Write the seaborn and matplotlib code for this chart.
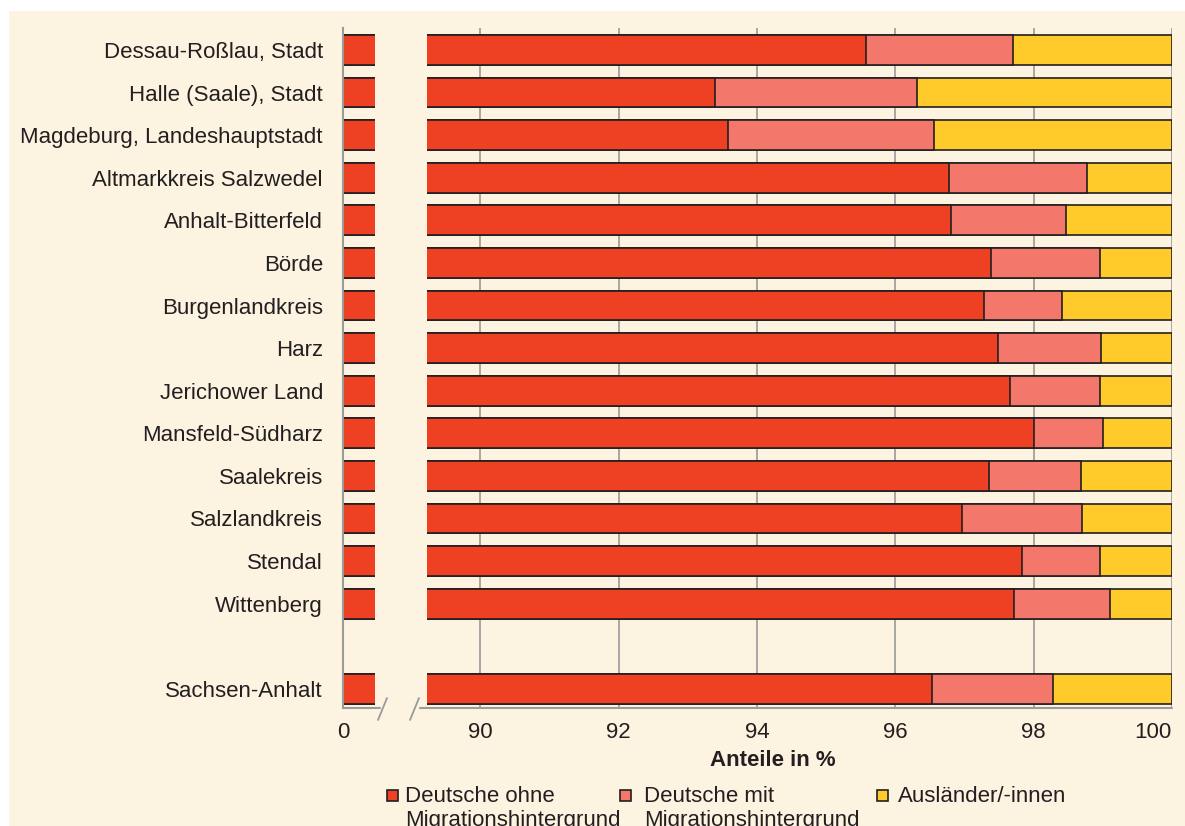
import pandas as pd
import matplotlib.pyplot as plt
import seaborn as sns
from matplotlib.patches import Rectangle
from matplotlib.lines import Line2D

sns.set_style("white")
plt.rcParams["font.family"] = ["Liberation Sans", "DejaVu Sans"]

kreise = ["Dessau-Roßlau, Stadt", "Halle (Saale), Stadt", "Magdeburg, Landeshauptstadt",
          "Altmarkkreis Salzwedel", "Anhalt-Bitterfeld", "Börde", "Burgenlandkreis", "Harz",
          "Jerichower Land", "Mansfeld-Südharz", "Saalekreis", "Salzlandkreis", "Stendal",
          "Wittenberg", "Sachsen-Anhalt"]
ohne_mig = [95.57, 93.39, 93.58, 96.77, 96.81, 97.38, 97.28, 97.49, 97.66, 98.00,
            97.36, 96.96, 97.83, 97.71, 96.53]
mit_mig = [2.13, 2.93, 2.98, 2.00, 1.66, 1.58, 1.13, 1.49, 1.30, 1.00,
           1.33, 1.74, 1.13, 1.40, 1.75]
auslaender = [2.30, 3.68, 3.44, 1.23, 1.53, 1.04, 1.59, 1.02, 1.04, 1.00,
              1.31, 1.30, 1.04, 0.89, 1.72]
legend_labels = ["Deutsche ohne\nMigrationshintergrund", "Deutsche mit\nMigrationshintergrund",
                 "Ausländer/-innen"]
colors = ["#EE4023", "#F3776A", "#FECB2A"]

df = pd.DataFrame({"kreis": kreise, "ohne": ohne_mig, "mit": mit_mig, "aus": auslaender})
df["c1"] = df["ohne"]
df["c2"] = df["ohne"] + df["mit"]
df["c3"] = df["c2"] + df["aus"]

# gap row before the state total
order = kreise[:-1] + [" "] + kreise[-1:]

W, H = 1185, 826
bg = "#FDF3E1"
txt = "#231F20"
grey = "#9A9A9A"
fs = 16


def fx(px):
    return px / W


def fy(py):
    return 1 - py / H


fig = plt.figure(figsize=(W / 100, H / 100), dpi=100, facecolor="white")
fig.add_artist(Rectangle((fx(9), 0), 1 - fx(9), fy(11), transform=fig.transFigure,
                         facecolor=bg, edgecolor="none", zorder=-10))

top, bottom = 28, 708
axL = fig.add_axes([fx(343), fy(bottom), fx(375) - fx(343), (bottom - top) / H])
axR = fig.add_axes([fx(427), fy(bottom), fx(1172) - fx(427), (bottom - top) / H])

for ax in (axL, axR):
    ax.set_facecolor("none")
    for col, c in zip(["c3", "c2", "c1"], colors[::-1]):
        sns.barplot(data=df, y="kreis", x=col, order=order, orient="y", color=c,
                    edgecolor=txt, linewidth=1.2, width=0.7, errorbar=None,
                    saturation=1, ax=ax)
    ax.set_ylim(15.45, -0.516)
    ax.set_xlabel("")
    ax.set_ylabel("")
    for s in ["top", "right", "bottom", "left"]:
        ax.spines[s].set_visible(False)
    ax.tick_params(axis="x", length=5, width=1.2, color=grey, labelsize=fs,
                   labelcolor=txt, pad=5)

axL.set_xlim(0, 1)
axL.set_xticks([0])
axL.set_xticklabels(["0"])
axL.spines["left"].set_visible(True)
axL.spines["left"].set_color(grey)
axL.spines["left"].set_linewidth(1.5)
axL.tick_params(axis="y", length=0, labelsize=fs, labelcolor=txt, pad=14.4)

axR.set_xlim(89.23, 100)
axR.set_xticks([90, 92, 94, 96, 98, 100])
axR.set_yticks([])
axR.set_axisbelow(True)
axR.grid(axis="x", color=grey, linewidth=1.2)
# last label sits flush with the axis end
lbl = axR.get_xticklabels()
lbl[-1].set_horizontalalignment("right")

# broken x axis line with slashes
for x0, x1 in [(343, 380), (420, 1172)]:
    fig.add_artist(Line2D([fx(x0), fx(x1)], [fy(bottom), fy(bottom)],
                          transform=fig.transFigure, color=grey, lw=1.5))
for xs in [378, 410]:
    fig.add_artist(Line2D([fx(xs), fx(xs + 9)], [fy(720), fy(698)],
                          transform=fig.transFigure, color=grey, lw=1.3))

fig.text(fx(773), fy(761), "Anteile in %", ha="center", va="center",
         fontsize=fs, fontweight="bold", color=txt)

# legend (second line runs off the bottom edge, as in the source)
for sx, tx, label, c in zip([387, 620, 877], [405, 644, 898], legend_labels, colors):
    fig.add_artist(Rectangle((fx(sx), fy(801)), fx(11), 11 / H, transform=fig.transFigure,
                             facecolor=c, edgecolor=txt, lw=1.2))
    fig.text(fx(tx), fy(786), label, ha="left", va="top", fontsize=fs,
             color=txt, linespacing=1.2)

fig.savefig("out.png", dpi=100, facecolor="white")
